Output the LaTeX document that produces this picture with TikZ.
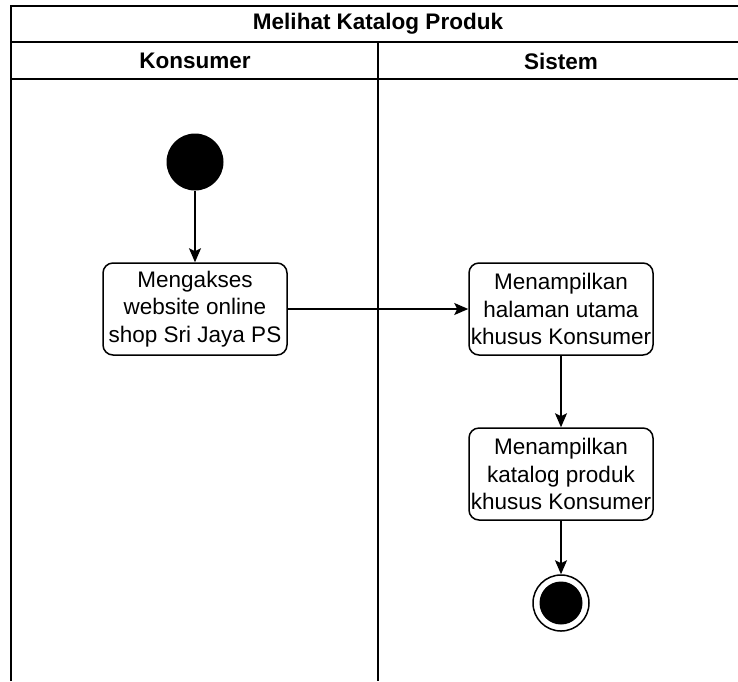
\documentclass[tikz,border=0pt]{standalone}
\usepackage{fontspec}
\setmainfont{Liberation Sans}
\usetikzlibrary{arrows.meta,positioning}

\begin{document}
\begin{tikzpicture}[x=1pt,y=-1pt,font=\fontsize{22.5}{27.5}\selectfont,line width=1.5pt]

\tikzset{actnode/.style={draw,rounded corners=10pt,minimum width=184pt,minimum height=92pt,align=center,inner sep=0pt},
headnode/.style={font=\fontsize{22.5}{27.5}\selectfont\bfseries},
flow/.style={-{Stealth[length=14pt,width=12pt,inset=3pt]}}}

\useasboundingbox (0,0) rectangle (738,681);

% Swimlane frame
\draw (11,681) -- (11,6) -- (745,6);
\draw (11,42) -- (745,42);
\draw (11,79) -- (745,79);
\draw (378,42) -- (378,681);
\node[headnode] (title) at (378,24) {Melihat Katalog Produk};
\node[headnode] (laneK) at (195,61) {Konsumer};
\node[headnode] (laneS) at (561,61) {Sistem};

% Activity nodes
\node[circle,fill=black,minimum size=57pt,inner sep=0pt] (start) at (195,162) {};
\node[actnode] (akses) at (195,309) {Mengakses\\website online\\shop Sri Jaya PS};
\node[actnode] (halaman) at (561,309) {Menampilkan\\halaman utama\\khusus Konsumer};
\node[actnode] (katalog) at (561,474) {Menampilkan\\katalog produk\\khusus Konsumer};
\node[circle,draw,minimum size=56pt,inner sep=0pt] (endOuter) at (561,603) {};
\node[circle,fill=black,minimum size=43pt,inner sep=0pt] (endInner) at (endOuter) {};

% Edges
\draw[flow] (start) -- (akses);
\draw[flow] (akses) -- (halaman);
\draw[flow] (halaman) -- (katalog);
\draw[flow] (katalog) -- (endOuter);

\end{tikzpicture}
\end{document}
